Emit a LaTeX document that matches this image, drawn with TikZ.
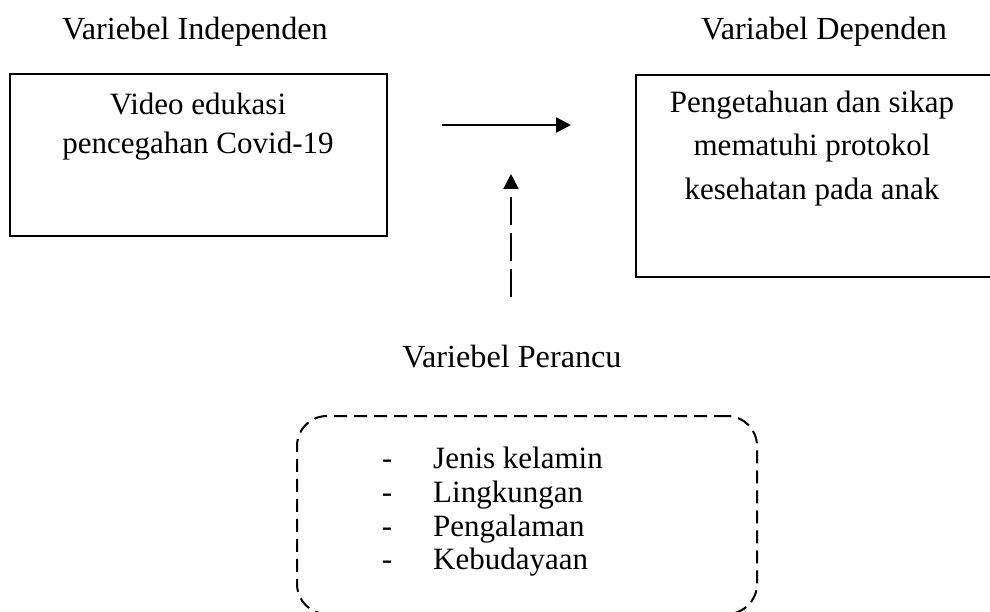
\documentclass[tikz,border=0pt]{standalone}
\usepackage{fontspec}
\setmainfont{Liberation Serif}
\usetikzlibrary{arrows.meta}
\begin{document}
\begin{tikzpicture}[x=1pt,y=-1pt,
  txt/.style={anchor=base,inner sep=0pt,font=\fontsize{31}{36}\selectfont},
  head/.style={anchor=base,inner sep=0pt,font=\fontsize{32.2}{38}\selectfont},
  lst/.style={anchor=base west,inner sep=0pt,font=\fontsize{31}{36}\selectfont},
  solidbox/.style={draw,line width=2pt,inner sep=0pt},
  dashbox/.style={draw,line width=2pt,inner sep=0pt,rounded corners=30pt,dash pattern=on 13pt off 7pt},
  conn/.style={line width=2.5pt,-{Triangle[length=15pt,width=15pt]}}]
\useasboundingbox (0,0) rectangle (990,612);
% headers
\node[head] (hInd) at (195,40) {Variebel Independen};
\node[head] (hDep) at (824,40) {Variabel Dependen};
\node[head] (hPer) at (512,367) {Variebel Perancu};
% boxes
\node[solidbox,minimum width=377pt,minimum height=162pt] (bInd) at (198.5,155) {};
\node[solidbox,minimum width=366pt,minimum height=202pt] (bDep) at (819,176) {};
\node[dashbox,minimum width=460pt,minimum height=198pt] (bPer) at (527,515) {};
% box texts
\node[txt] (i1) at (198,115) {Video edukasi};
\node[txt] (i2) at (198,154) {pencegahan Covid-19};
\node[txt] (d1) at (812,113) {Pengetahuan dan sikap};
\node[txt] (d2) at (812,156) {mematuhi protokol};
\node[txt] (d3) at (812,200) {kesehatan pada anak};
% list
\foreach \n/\t/\y in {1/Jenis kelamin/468,2/Lingkungan/502,3/Pengalaman/536,4/Kebudayaan/569}{
  \node[txt] (dash\n) at (387,\y) {-};
  \node[lst] (item\n) at (433,\y) {\t};
}
% connectors
\coordinate (a1) at (442,125);
\coordinate (a2) at (571,125);
\coordinate (v1) at (511,297);
\coordinate (v2) at (511,174);
\draw[conn] (a1) -- (a2);
\draw[conn,dash pattern=on 28pt off 8pt] (v1) -- (v2);
\end{tikzpicture}
\end{document}
